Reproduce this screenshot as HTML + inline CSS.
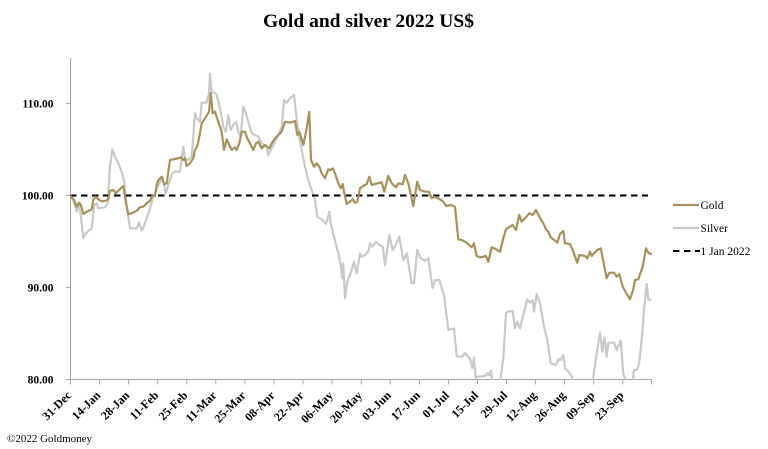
<!DOCTYPE html>
<html><head><meta charset="utf-8"><style>
html,body{margin:0;padding:0;background:#fff;}
svg{display:block;}
text{font-family:"Liberation Serif","Times New Roman",serif;fill:#000;}
</style></head><body>
<svg width="768" height="449" viewBox="0 0 768 449" xmlns="http://www.w3.org/2000/svg">
<rect width="768" height="449" fill="#fff"/>
<text x="368.5" y="27" font-size="19" font-weight="bold" text-anchor="middle" textLength="211" lengthAdjust="spacingAndGlyphs">Gold and silver 2022  US$</text>

<defs><clipPath id="pc"><rect x="70" y="55" width="590" height="324.5"/></clipPath></defs>

<!-- axes -->
<g stroke="#a6a6a6" stroke-width="1" fill="none">
<line x1="70.5" y1="58" x2="70.5" y2="380"/>
<line x1="70" y1="379.5" x2="651.5" y2="379.5"/>
<line x1="66" y1="103.5" x2="70" y2="103.5"/>
<line x1="66" y1="195.5" x2="70" y2="195.5"/>
<line x1="66" y1="287.5" x2="70" y2="287.5"/>
<line x1="66" y1="379.5" x2="70" y2="379.5"/>
<path d="M70.5 379.5v5M99.6 379.5v5M128.6 379.5v5M157.7 379.5v5M186.8 379.5v5M215.8 379.5v5M244.9 379.5v5M274 379.5v5M303 379.5v5M332.1 379.5v5M361.2 379.5v5M390.2 379.5v5M419.3 379.5v5M448.4 379.5v5M477.4 379.5v5M506.5 379.5v5M535.6 379.5v5M564.6 379.5v5M593.7 379.5v5M622.8 379.5v5M651.3 379.5v5"/>
</g>

<!-- y labels -->
<g font-size="11.5" font-weight="bold" text-anchor="end">
<text x="53.5" y="107.5">110.00</text>
<text x="53.5" y="199.5">100.00</text>
<text x="53.5" y="291.5">90.00</text>
<text x="53.5" y="383.5">80.00</text>
</g>

<!-- x labels -->
<g font-size="12" font-weight="bold" text-anchor="end">
<text transform="translate(72,396) rotate(-45)">31-Dec</text>
<text transform="translate(101.1,396) rotate(-45)">14-Jan</text>
<text transform="translate(130.1,396) rotate(-45)">28-Jan</text>
<text transform="translate(159.2,396) rotate(-45)">11-Feb</text>
<text transform="translate(188.3,396) rotate(-45)">25-Feb</text>
<text transform="translate(217.3,396) rotate(-45)">11-Mar</text>
<text transform="translate(246.4,396) rotate(-45)">25-Mar</text>
<text transform="translate(275.5,396) rotate(-45)">08-Apr</text>
<text transform="translate(304.5,396) rotate(-45)">22-Apr</text>
<text transform="translate(333.6,396) rotate(-45)">06-May</text>
<text transform="translate(362.7,396) rotate(-45)">20-May</text>
<text transform="translate(391.7,396) rotate(-45)">03-Jun</text>
<text transform="translate(420.8,396) rotate(-45)">17-Jun</text>
<text transform="translate(449.9,396) rotate(-45)">01-Jul</text>
<text transform="translate(478.9,396) rotate(-45)">15-Jul</text>
<text transform="translate(508,396) rotate(-45)">29-Jul</text>
<text transform="translate(537.1,396) rotate(-45)">12-Aug</text>
<text transform="translate(566.1,396) rotate(-45)">26-Aug</text>
<text transform="translate(595.2,396) rotate(-45)">09-Sep</text>
<text transform="translate(624.3,396) rotate(-45)">23-Sep</text>
</g>

<g clip-path="url(#pc)" fill="none" stroke-linejoin="round" stroke-linecap="round">
<!-- silver -->
<polyline stroke="#c9c9c9" stroke-width="2.2" points="70,195.5 73.3,200 76.7,211.7 79,204 81,216.7 83.3,238.3 85.7,233.3 91.7,228.3 94.3,205 96.7,203.3 98.3,208.3 105,207.3 107.7,203.3 110,166.7 112.3,149.3 115,156.7 118.3,163.3 121.7,171.7 124.3,181.7 126.7,206.7 130,228.3 136.7,228.3 139,222.7 141.7,230.7 145,223.3 150,208.3 153.3,196.7 156.7,188.3 160,181.7 162.7,177.3 165.7,193.3 168.3,185 172.3,173.3 175,171.7 180,171.7 183.3,146.7 185,158.3 188.3,160 191.7,156.7 195,113.3 196.7,118.3 200,121.7 201.7,102.7 206.7,102.7 209,93.3 210,74 211.7,91.7 215,93.3 216.7,95 220,108.3 223.3,126.7 226,131.7 228.3,115 230.7,130 233.3,125 236,121.7 238.3,131.7 240.7,136.7 243.3,106.7 246,113.3 248.3,121.7 251.7,133.3 255,135 258.3,136.7 261.7,143.3 264,145 266.7,147.3 268.3,155 271.7,148.3 275,141.7 278.3,135 281.7,126.7 284,100 286.7,102.7 290,98.3 294,95 296,113.3 298.3,131.7 301.7,150 305,166.7 308.3,180 311.7,190 315,200 317.3,216.7 321.7,219.3 326,224 329.3,211.7 330.7,223.3 334,236.7 338.3,253.3 340.7,265 342.3,278.3 343.3,263.3 345,298.3 347.3,281.7 351.7,270 354,261.7 356.7,273.3 360,253.3 361.7,256.7 365,255 368.3,251.7 370,243.3 372.7,246.7 376,241.7 379.3,245 382.7,246.7 385,265 389.3,235 392.7,250 396.7,243.3 399.3,236.7 403.3,260 406.7,253.3 411.7,283.3 414,283.3 417.3,250 420.7,258.3 425,260.7 428.3,258.3 432.7,288.3 435,280 439.3,280 444,295 448.3,330 454,328.3 456.7,356 461.7,356.7 465,353.3 470,358.3 472.3,368.3 474,357.3 475.7,378.3 477.3,376.7 485,376 487.3,373.3 489.3,375 491,370.7 492.3,382 494,395 498,395 500,382 503.3,358.3 506,313.3 507.3,311.7 512.7,311 515,328.3 517.3,321.7 520,328.3 523.3,315 527.3,299.3 530,302.7 532.7,300 534,311.7 536.7,294 540,303.3 544,326.7 547.3,340 550.7,363.3 556,365 558.3,359.3 560.7,360 563.3,355 565,368.3 570,373.3 572.3,378.3 575,395 590,395 592.7,381 596.7,353.3 600,332.7 602.3,351.7 604.3,337.3 606.7,356.7 608.3,342.7 614,342.7 616.7,350 620.7,340.7 623.3,373.3 626,382 629,392 632.7,381 634,370 636.7,370 639,364 641.7,340 644,310 646.7,284 648.3,299.3 650.7,300"/>
<!-- baseline dashed -->
<line x1="70" y1="195.5" x2="648" y2="195.5" stroke="#000" stroke-width="2" stroke-dasharray="6.5 4.5" stroke-linecap="butt"/>
<!-- gold -->
<polyline stroke="#a8915a" stroke-width="2.2" points="70,195.5 74,200 76.7,206.7 79,202.7 81,205 83.3,214 86.7,211.7 91.7,209.3 93.3,200 95.7,196.7 98.3,199.3 101.7,201.3 105.7,200.7 108.3,199.3 110,190.7 113.3,190 115.7,193.3 118.3,190.7 123.3,186 126,203.3 128.3,214 131.7,213.3 136.7,210.7 140,207.3 143.3,206.7 146.7,203.3 150,200.7 152.3,196 155,196 156.7,185 158.3,180 161.7,176.7 164,184.3 166.7,183.3 170,160 173.3,159.3 178.3,158.3 181,157.3 183.3,160 185,158.3 186.7,166 190,163.3 193.3,158.3 195,150 197.3,146 199,138.3 201.7,123.3 205,118.3 209,111.7 210.7,93 212.7,113.3 215,111.7 218.3,121.7 221.7,131.7 224,150 226.7,139.3 229.3,145 231.7,150 235,147.3 236.7,150 239.3,143.3 241.7,131.7 245,131.7 247.3,138.3 250,143.3 253.3,150 256,143.3 258.3,141.7 261.7,148.3 265,145 267.3,146.7 269.3,148.3 271.7,143.3 275,138.3 278.3,135 281.7,131.7 285,121.7 290,122.7 295,121 297.3,135 299.3,131.7 301.7,139.3 303.3,145 306.7,128.3 309.3,111.7 311,160 314,166.7 316.7,163.3 319.3,166.7 321.7,173.3 325,178.3 328.3,169.3 330.7,170 332.7,168.3 335,173.3 338.3,183.3 340.7,188.3 342.7,184 344,191.7 346.7,204 350,201.7 352.7,199.3 355,202.7 357.3,201.7 360,188.3 363.3,186 366.7,184 369.3,176.7 371.7,185 375,184 381.7,182.3 384.3,191.7 388.3,176 391.7,183.3 396,187.3 398.3,183.3 402.7,184.3 405,175 408.3,183.3 413.3,206 417.3,181.7 420,190 425,191.7 429,191.7 431.7,198.3 434,196.7 438.3,198.3 443.3,201.7 446,206 450.7,205 455,206.7 458.3,239.3 461.7,240 466.7,242.7 471.7,247.3 474,243.3 476.7,256 480,257.3 486,256 488.3,261.7 491.7,247.3 495,248.7 500,251.7 503.3,238.3 506,229.3 510,226.7 512.7,225 516,230 519.3,215 521.7,221.7 525,218.3 529.3,213.3 532.7,215 536,210 539.3,216.7 543.3,223.3 546,229.3 548.3,231.7 550.7,237.3 555,240.7 557.3,242.7 560,234 563.3,231 565,243.3 570,244 573.3,251.7 577.3,262.7 579.3,255 585,256 587.3,258.3 590,251.7 591.7,256 594,253.3 597.3,250 600.7,248.3 604,265 606.7,278.3 609.3,272.7 614,272.7 616.7,276.7 619.3,274 622.7,286.7 626.7,294 630,299.3 633.3,289.3 635,280 638.3,279.3 642.7,266.7 646,248.3 648.3,252.7 651,254"/>
</g>

<!-- legend -->
<line x1="673" y1="205" x2="699" y2="205" stroke="#a8915a" stroke-width="2.2"/>
<line x1="673" y1="228" x2="699" y2="228" stroke="#c9c9c9" stroke-width="2.2"/>
<line x1="673" y1="251" x2="700" y2="251" stroke="#000" stroke-width="2" stroke-dasharray="6.5 4.5"/>
<g font-size="11.5">
<text x="700.5" y="209">Gold</text>
<text x="700.5" y="232">Silver</text>
<text x="700.5" y="255">1 Jan 2022</text>
</g>

<text x="7" y="442" font-size="11">©2022 Goldmoney</text>
</svg>
</body></html>
